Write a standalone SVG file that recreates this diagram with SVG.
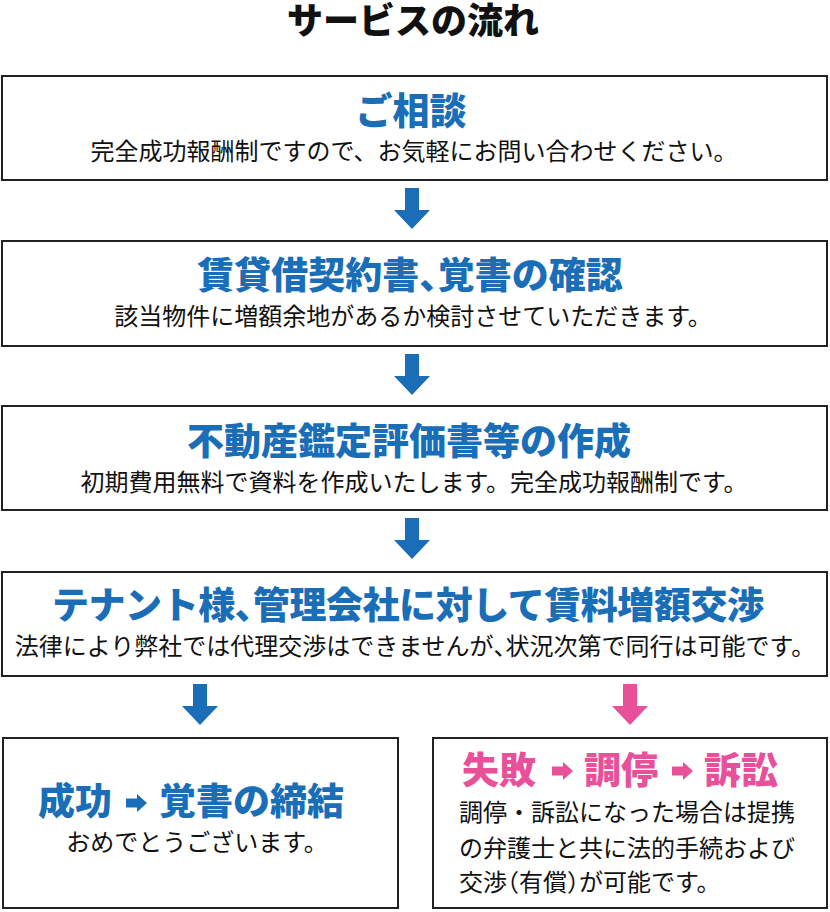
<svg xmlns="http://www.w3.org/2000/svg" width="830" height="912" viewBox="0 0 830 912">
<style>
.box{fill:#fff;stroke:#222;stroke-width:2}
.title{font-family:"Noto Sans CJK JP","Noto Sans",sans-serif;font-size:36px;font-weight:900;fill:#111;text-anchor:middle}
.hd{font-family:"Noto Sans CJK JP","Noto Sans",sans-serif;font-size:37px;font-weight:900;fill:#1a6eb7;text-anchor:middle}
.hdp{font-family:"Noto Sans CJK JP","Noto Sans",sans-serif;font-size:37px;font-weight:900;fill:#e8519a}
.sub{font-family:"Noto Sans CJK JP","Noto Sans",sans-serif;font-size:24px;font-weight:400;fill:#111;text-anchor:middle}
.body{font-family:"Noto Sans CJK JP","Noto Sans",sans-serif;font-size:24px;font-weight:400;fill:#111}
.h{font-feature-settings:"halt"}
.blue{fill:#1a6eb7}
.pink{fill:#e8519a}
</style>
<defs>
<path id="down" d="M-7,0 H7 V22 H18 L0,41 L-18,22 H-7 Z"/>
<path id="right" d="M0,-4.5 H11 V-9 L21,0 L11,9 V4.5 H0 Z"/>
</defs>
<rect width="830" height="912" fill="#fff"/>
<text class="title" x="413" y="34">サービスの流れ</text>

<g id="connectors">
<use href="#down" x="412" y="188" class="blue"/>
<use href="#down" x="412" y="354" class="blue"/>
<use href="#down" x="412" y="518" class="blue"/>
<use href="#down" x="200" y="684" class="blue"/>
<use href="#down" x="630" y="684" class="pink"/>
</g>

<g id="step1">
<rect class="box" x="2" y="76" width="825" height="104"/>
<text class="hd" x="411" y="125">ご相談</text>
<text class="sub" x="414" y="160">完全成功報酬制ですので、お気軽にお問い合わせください。</text>
</g>

<g id="step2">
<rect class="box" x="2" y="241" width="825" height="105"/>
<text class="hd" x="410" y="289">賃貸借契約書<tspan class="h">、</tspan>覚書の確認</text>
<text class="sub" x="413" y="325">該当物件に増額余地があるか検討させていただきます。</text>
</g>

<g id="step3">
<rect class="box" x="2" y="406" width="825" height="104"/>
<text class="hd" x="409" y="455">不動産鑑定評価書等の作成</text>
<text class="sub" x="414" y="491">初期費用無料で資料を作成いたします。完全成功報酬制です。</text>
</g>

<g id="step4">
<rect class="box" x="2" y="572" width="825" height="104"/>
<text class="hd" x="408" y="619" textLength="712" lengthAdjust="spacing">テナント様<tspan class="h">、</tspan>管理会社に対して賃料増額交渉</text>
<text class="sub" x="415" y="655">法律により弊社では代理交渉はできませんが<tspan class="h">、</tspan>状況次第で同行は可能です。</text>
</g>

<g id="success">
<rect class="box" x="3" y="738" width="395" height="170"/>
<text class="hd" style="text-anchor:start" y="815"><tspan x="38">成功</tspan><tspan x="159">覚書の締結</tspan></text>
<use href="#right" x="126" y="803" class="blue"/>
<text class="sub" x="197" y="851">おめでとうございます。</text>
</g>

<g id="failure">
<rect class="box" x="433" y="738" width="394" height="170"/>
<text class="hdp" y="784"><tspan x="462">失敗</tspan><tspan x="584">調停</tspan><tspan x="704">訴訟</tspan></text>
<use href="#right" x="552" y="771" class="pink"/>
<use href="#right" x="672" y="771" class="pink"/>
<text class="body" x="459" y="821">調停・訴訟になった場合は提携</text>
<text class="body" x="459" y="857">の弁護士と共に法的手続および</text>
<text class="body" x="459" y="891">交渉<tspan class="h">（</tspan>有償<tspan class="h">）</tspan>が可能です。</text>
</g>
</svg>
